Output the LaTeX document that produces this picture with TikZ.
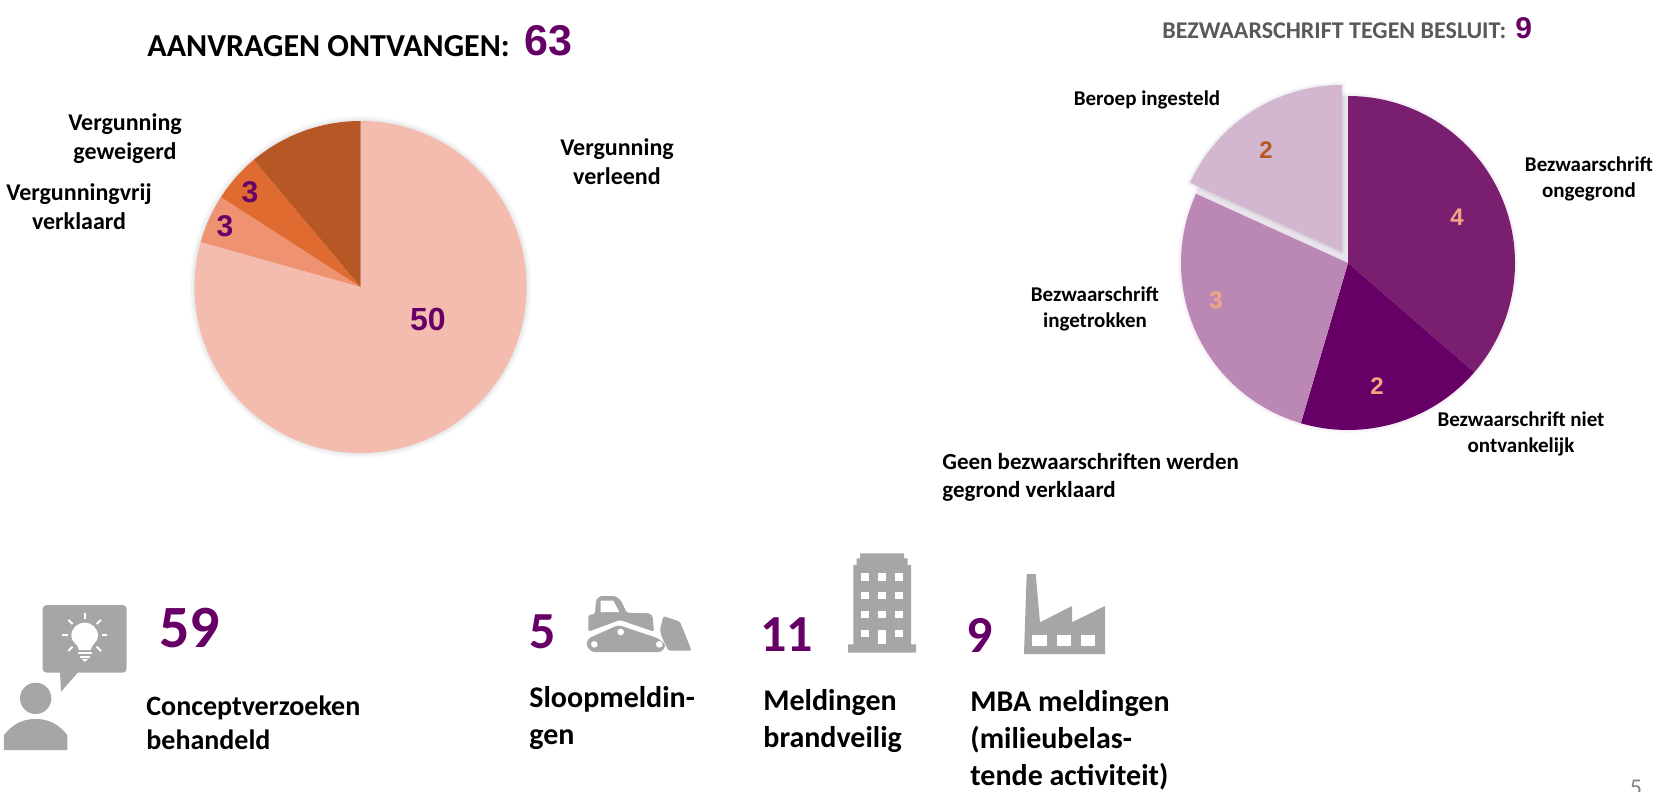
\documentclass[tikz,border=0pt]{standalone}
\usepackage{fontspec}
\setmainfont{Carlito}
\newfontfamily\arialfont{Liberation Sans}
\usepackage{tikz}
\definecolor{paars}{HTML}{660066}
\definecolor{grijstekst}{HTML}{595959}
\definecolor{icoon}{HTML}{A6A6A6}
\definecolor{oranjea}{HTML}{F4BBAF}
\definecolor{oranjeb}{HTML}{EE9272}
\definecolor{oranjec}{HTML}{DF6B30}
\definecolor{oranjed}{HTML}{B85726}
\definecolor{paarsa}{HTML}{7A1F6F}
\definecolor{paarsc}{HTML}{BB87B5}
\definecolor{paarsd}{HTML}{D3B7D0}
\definecolor{spleet}{HTML}{E9E4EB}
\definecolor{zalm}{HTML}{F4A582}
\tikzset{
  labelsmall/.style={font=\fontsize{12}{14.5}\selectfont\bfseries,align=center,inner sep=0pt},
  labelpie/.style={font=\fontsize{10.5}{13}\selectfont\bfseries,align=center,inner sep=0pt},
  labelbig/.style={font=\fontsize{15}{18.5}\selectfont\bfseries,align=left,anchor=west,inner sep=0pt},
  getal/.style={font=\fontsize{#1}{#1}\selectfont\arialfont\bfseries,text=paars,inner sep=0pt},
  teller/.style={font=\fontsize{#1}{#1}\selectfont\bfseries,text=paars,inner sep=0pt,anchor=west},
  icoonvlak/.style={fill=icoon,draw=none},
  gat/.style={fill=white,draw=none},
  straal/.style={draw=white,line width=1pt}
}
\begin{document}
\begin{tikzpicture}[x=0.5pt,y=-0.5pt]
\path[use as bounding box,clip] (0,0) rectangle (1667,792);
\begin{scope}[shift={(360.5,287)},y=0.5pt]
\foreach \w in {5,3.5,2,1} \draw[black,opacity=0.025,line width=\w pt] (0,0) circle (166);
\foreach \van/\tot/\kleur in {90/-195.7/oranjea,-195.7/-212.8/oranjeb,-212.8/-230/oranjec,-230/-270/oranjed}
  \fill[\kleur] (0,0) -- (\van:166) arc (\van:\tot:166) -- cycle;
\end{scope}
\begin{scope}[shift={(1348,263)},y=0.5pt]
\foreach \w in {3,1.5} \draw[paars,opacity=0.03,line width=\w pt] (0,0) circle (167);
\fill[spleet] (0,0) -- (90:167) arc (90:155.5:167) -- cycle;
\foreach \w in {3,1.5} \draw[black,opacity=0.03,line width=\w pt,line join=round] (-6,11) -- ++(90:167) arc (90:155.5:167) -- cycle;
\fill[paarsd] (-6,11) -- ++(90:167) arc (90:155.5:167) -- cycle;
\foreach \van/\tot/\kleur in {90/-40.9/paarsa,-40.9/-106.4/paars,-106.4/-204.5/paarsc}
  \fill[\kleur] (0,0) -- (\van:167) arc (\van:\tot:167) -- cycle;
\end{scope}
\node[anchor=west,inner sep=0pt,font=\fontsize{16}{18}\selectfont\bfseries] (titelaanvragen) at (147,46) {AANVRAGEN ONTVANGEN:};
\node[getal=21.5,anchor=west] (totaalaanvragen) at (524,41) {63};
\node[anchor=west,inner sep=0pt,text=grijstekst,font=\fontsize{12}{13}\selectfont\bfseries] (titelbezwaar) at (1162,31) {BEZWAARSCHRIFT TEGEN BESLUIT:};
\node[getal=15,anchor=west] (totaalbezwaar) at (1515,28) {9};
\node[labelsmall] (geweigerd) at (125,139) {Vergunning\\geweigerd};
\node[labelsmall] (vrij) at (79,207) {Vergunningvrij\\verklaard};
\node[labelsmall] (verleend) at (617,162) {Vergunning\\verleend};
\node[getal=15] (drieb) at (250,192) {3};
\node[getal=15] (driea) at (225,226) {3};
\node[getal=16] (vijftig) at (428,319) {50};
\node[labelpie] (beroep) at (1147,100) {Beroep ingesteld};
\node[labelpie] (ongegrond) at (1589,179) {Bezwaarschrift\\ongegrond};
\node[labelpie] (ingetrokken) at (1095,309) {Bezwaarschrift\\ingetrokken};
\node[labelpie] (ontvankelijk) at (1521,434) {Bezwaarschrift niet\\ontvankelijk};
\node[labelsmall,font=\fontsize{11.5}{14}\selectfont\bfseries,align=left,anchor=west] (geen) at (942,477) {Geen bezwaarschriften werden\\gegrond verklaard};
\node[getal=12,text=oranjed] (tweeberoep) at (1266,150) {2};
\node[getal=12,text=zalm] (vier) at (1457,217) {4};
\node[getal=12,text=zalm] (drie) at (1216,300) {3};
\node[getal=12,text=zalm] (twee) at (1377,386) {2};
\node[teller=30] (concept) at (159,628) {59};
\node[teller=26] (sloop) at (529,632) {5};
\node[teller=26] (brand) at (760,635) {11};
\node[teller=26] (mba) at (966,635) {9};
\node[labelbig,font=\fontsize{14}{17}\selectfont\bfseries] (conceptlabel) at (146,723) {Conceptverzoeken\\behandeld};
\node[labelbig] (slooplabel) at (529,718) {Sloopmeldin-\\gen};
\node[labelbig] (brandlabel) at (763,721) {Meldingen\\brandveilig};
\node[labelbig] (mbalabel) at (970,740) {MBA meldingen\\(milieubelas-\\tende activiteit)};
\node[inner sep=0pt,text=icoon!80!black,font=\fontsize{12}{12}\selectfont] (pagina) at (1636,788) {5};
\begin{scope}[shift={(0,600)},scale=1/3]
\fill[icoonvlak,rounded corners=2pt] (128,15) rectangle (380,218);
\fill[icoonvlak] (180,216) -- (183,275) -- (235,216) -- cycle;
\fill[icoonvlak] (107,295) circle (47);
\fill[icoonvlak] (12,450) -- (12,405) .. controls (40,370) and (70,357) .. (107,357) .. controls (144,357) and (174,370) .. (202,405) -- (202,450) -- cycle;
\fill[gat] (237,150) -- (272,150) .. controls (275,130) and (294,128) .. (294,108) .. controls (294,85) and (276,68) .. (254,68) .. controls (232,68) and (214,85) .. (214,108) .. controls (214,128) and (234,130) .. (237,150) -- cycle;
\draw[straal] (235,158) -- (275,158) (240,170) -- (270,170);
\fill[gat] (245,177) -- (265,177) -- (254,185) -- cycle;
\foreach \xa/\ya/\xb/\yb in {254/40/254/58,205/60/218/72,303/60/290/72,187/106/205/106,305/106/322/106,205/153/218/140,303/153/290/140}
  \draw[straal] (\xa,\ya) -- (\xb,\yb);
\end{scope}
\begin{scope}[shift={(580,590)},scale=1/3]
\fill[icoonvlak,rounded corners=0.8pt] (25,125) -- (25,75) -- (45,72) -- (48,30) -- (60,18) -- (105,18) -- (122,30) -- (140,68) -- (210,70) -- (218,80) -- (222,125) -- (120,90) -- cycle;
\fill[gat] (62,32) -- (100,32) -- (118,66) -- (62,66) -- cycle;
\fill[icoonvlak,rounded corners=1.5pt] (18,165) -- (25,145) -- (115,105) -- (235,145) -- (258,165) -- (245,186) -- (35,186) -- cycle;
\foreach \xa/\ya in {43/163,122/126,238/163} \fill[gat] (\xa,\ya) circle (10);
\fill[icoonvlak,rounded corners=0.8pt] (250,78) -- (300,95) -- (335,182) -- (265,182) -- (245,140) -- (240,120) -- cycle;
\end{scope}
\begin{scope}[shift={(840,545)},scale=1/3]
\fill[icoonvlak] (60,25) -- (192,25) -- (192,40) -- (203,40) -- (203,60) -- (213,60) -- (213,298) -- (228,298) -- (228,323) -- (24,323) -- (24,298) -- (40,298) -- (40,60) -- (50,60) -- (50,40) -- (60,40) -- cycle;
\foreach \kol in {64,115,166} \foreach \rij in {85,141,198} \fill[gat] (\kol,\rij) rectangle ++(22,22);
\fill[gat] (64,255) rectangle ++(22,22);
\fill[gat] (166,255) rectangle ++(22,22);
\fill[gat] (115,255) rectangle (138,298);
\fill[icoonvlak] (560,87) -- (587,87) -- (600,232) -- (696,183) -- (696,232) -- (795,183) -- (795,327) -- (552,327) -- cycle;
\foreach \kol in {577,650,722} \fill[gat] (\kol,270) rectangle ++(44,32);
\end{scope}
\end{tikzpicture}
\end{document}
